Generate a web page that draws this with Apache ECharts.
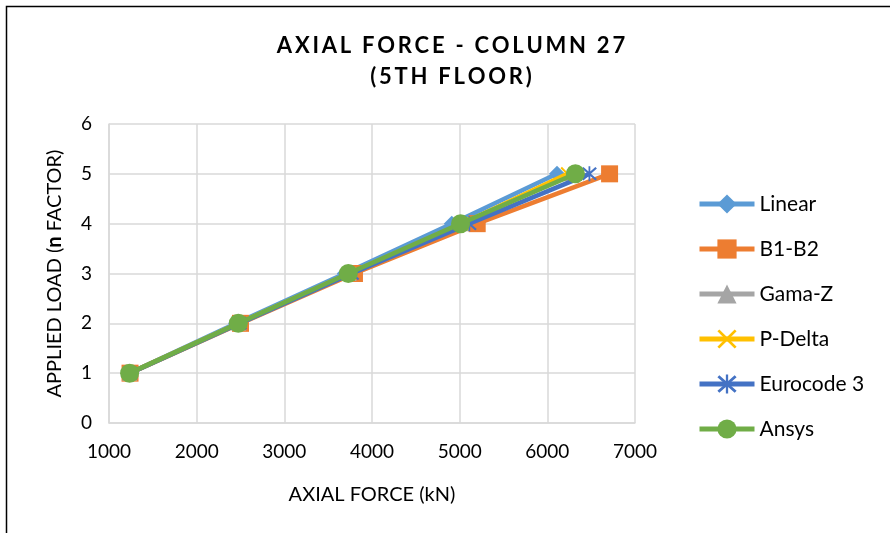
<!DOCTYPE html>
<html><head><meta charset="utf-8">
<script src="https://cdn.jsdelivr.net/npm/echarts@6/dist/echarts.min.js"></script>
<style>html,body{margin:0;padding:0;background:#fff}#c{width:890px;height:533px}</style>
</head><body><div id="c"></div>
<script>
const loadFactors = [1, 2, 3, 4, 5];
const seriesNames = ['Linear', 'B1-B2', 'Gama-Z', 'P-Delta', 'Eurocode 3', 'Ansys'];
const linear   = [1230, 2450, 3690, 4910, 6110];
const b1b2     = [1240, 2500, 3800, 5200, 6710];
const gamaZ    = [1235, 2480, 3740, 5030, 6250];
const pDelta   = [1235, 2480, 3740, 5030, 6230];
const eurocode = [1240, 2490, 3770, 5110, 6480];
const ansys    = [1235, 2475, 3730, 5010, 6320];
const xTicks = [1000, 2000, 3000, 4000, 5000, 6000, 7000];
const yTicks = [0, 1, 2, 3, 4, 5, 6];
const titleLines = ['AXIAL FORCE - COLUMN 27', '(5TH FLOOR)'];

const colors = ['#5B9BD5', '#ED7D31', '#A5A5A5', '#FFC000', '#4472C4', '#70AD47'];
const xPath = 'path://M0,1 L1,0 L5,4 L9,0 L10,1 L6,5 L10,9 L9,10 L5,6 L1,10 L0,9 L4,5 Z';
const starPath = 'path://M4.4,0 L5.6,0 L5.6,10 L4.4,10 Z M0,1.5 L1,0.5 L5,4 L9,0.5 L10,1.5 L6,5 L10,8.5 L9,9.5 L5,6 L1,9.5 L0,8.5 L4,5 Z';
const symbols = ['diamond', 'rect', 'triangle', xPath, starPath, 'circle'];
const sizes = [16, 17, 15, 14, 15, 19];
const allData = [linear, b1b2, gamaZ, pDelta, eurocode, ansys];

const spaced = s => s.split('').join('\u2009');
const font = 'Lato, "Open Sans", sans-serif';
const chart = echarts.init(document.getElementById('c'));
chart.setOption({
  animation: false,
  backgroundColor: '#fff',
  graphic: [{
    type: 'rect', shape: {x: 6.5, y: 6.5, width: 1000, height: 700},
    style: {fill: 'none', stroke: '#000', lineWidth: 1.5}, silent: true, z: -10
  }],
  title: {
    text: titleLines.map(spaced).join('\n'),
    left: 446, top: 25, textAlign: 'center',
    textStyle: {fontFamily: font, fontSize: 22, fontWeight: 'bold', color: '#000', lineHeight: 31}
  },
  legend: {
    orient: 'vertical', left: 697, top: 192, padding: 0, itemGap: 21, itemWidth: 55, itemHeight: 24,
    data: seriesNames,
    lineStyle: {width: 5},
    textStyle: {fontFamily: font, fontSize: 21, color: '#000', padding: [0,0,0,0], lineHeight: 24}
  },
  grid: {left: 109, right: 255, top: 124, bottom: 110, containLabel: false},
  xAxis: {
    type: 'value', min: xTicks[0], max: xTicks[xTicks.length-1], interval: 1000,
    name: 'AXIAL FORCE (kN)', nameLocation: 'middle', nameGap: 62,
    nameTextStyle: {fontFamily: font, fontSize: 20, color: '#000'},
    axisLine: {show: true, lineStyle: {color: '#d9d9d9', width: 1.5}},
    axisTick: {show: false},
    axisLabel: {fontFamily: font, fontSize: 19, color: '#000', margin: 19, formatter: v => String(v)},
    splitLine: {show: true, lineStyle: {color: '#d9d9d9', width: 1.5}}
  },
  yAxis: {
    type: 'value', min: yTicks[0], max: yTicks[yTicks.length-1], interval: 1,
    name: '{a|APPLIED LOAD (}{b|n}{a| FACTOR)}', nameLocation: 'middle', nameGap: 44,
    nameTextStyle: {rich: {
      a: {fontFamily: font, fontSize: 20, color: '#000'},
      b: {fontFamily: font, fontSize: 20, color: '#000', fontWeight: 'bold'}
    }},
    axisLine: {show: true, lineStyle: {color: '#d9d9d9', width: 1.5}},
    axisTick: {show: false},
    axisLabel: {fontFamily: font, fontSize: 19, color: '#000', margin: 17},
    splitLine: {show: true, lineStyle: {color: '#d9d9d9', width: 1.5}}
  },
  series: seriesNames.map((n, i) => ({
    name: n, type: 'line',
    data: allData[i].map((v, k) => [v, loadFactors[k]]),
    symbol: symbols[i], symbolSize: sizes[i],
    lineStyle: {color: colors[i], width: 4.5},
    itemStyle: {color: colors[i]},
    z: 2 + i
  }))
});
</script></body></html>
